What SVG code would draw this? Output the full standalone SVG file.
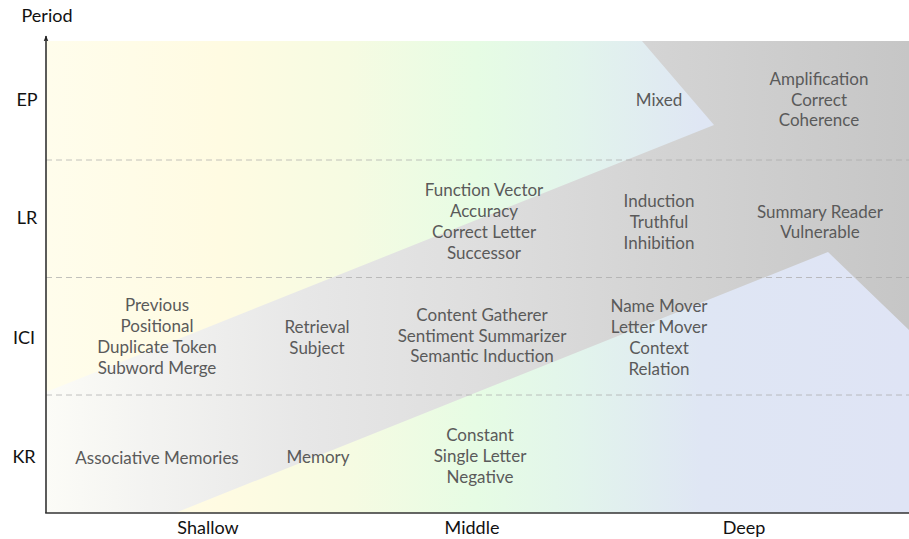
<svg xmlns="http://www.w3.org/2000/svg" width="909" height="539" viewBox="0 0 909 539">
  <defs>
    <linearGradient id="bg" gradientUnits="userSpaceOnUse" x1="46" y1="0" x2="909" y2="0">
      <stop offset="0" stop-color="#fffdec"/>
      <stop offset="0.2" stop-color="#fffbe2"/>
      <stop offset="0.35" stop-color="#f6fbe2"/>
      <stop offset="0.5" stop-color="#e6fce4"/>
      <stop offset="0.62" stop-color="#e2f4ec"/>
      <stop offset="0.76" stop-color="#dfe6f4"/>
      <stop offset="1" stop-color="#dfe4f5"/>
    </linearGradient>
    <linearGradient id="band" gradientUnits="userSpaceOnUse" x1="46" y1="0" x2="909" y2="0">
      <stop offset="0" stop-color="#fcfcf7"/>
      <stop offset="0.12" stop-color="#f3f3f1"/>
      <stop offset="0.3" stop-color="#e7e7e7"/>
      <stop offset="0.5" stop-color="#dedede"/>
      <stop offset="0.72" stop-color="#d3d3d3"/>
      <stop offset="1" stop-color="#c6c6c6"/>
    </linearGradient>
    <marker id="arrow" viewBox="0 0 10 10" refX="9" refY="5" markerWidth="6" markerHeight="6" orient="auto" markerUnits="userSpaceOnUse">
      <path d="M0,1 L10,5 L0,9 L2,5 Z" fill="#222"/>
    </marker>
    <style>
      .lbl { font-family: Lato, "Noto Sans", "DejaVu Sans", sans-serif; font-size: 17px; fill: #5a5a5a; text-anchor: middle; }
      .ax { font-family: Lato, "Noto Sans", "DejaVu Sans", sans-serif; font-size: 18px; fill: #111; text-anchor: middle; }
      .grid { stroke: #a8a8a8; stroke-opacity: 0.7; stroke-width: 1; stroke-dasharray: 6 4; fill: none; }
      .axis { stroke: #333; stroke-width: 1.6; fill: none; }
    </style>
  </defs>

  <rect x="0" y="0" width="909" height="539" fill="#ffffff"/>
  <rect id="background" x="46" y="41" width="863" height="472" fill="url(#bg)"/>
  <path id="band-shape" d="M46,392 L714,125 L642,41 L909,41 L909,330 L828,252 L175,513 L46,513 Z" fill="url(#band)"/>

  <g id="gridlines">
    <line class="grid" x1="46" y1="160" x2="909" y2="160"/>
    <line class="grid" x1="46" y1="277.5" x2="909" y2="277.5"/>
    <line class="grid" x1="46" y1="395" x2="909" y2="395"/>
  </g>

  <g id="connectors">
    <line class="axis" x1="46" y1="513" x2="46" y2="36" marker-end="url(#arrow)"/>
    <line class="axis" x1="45.2" y1="513" x2="909" y2="513"/>
  </g>

  <g id="axis-labels">
    <text class="ax" x="47" y="22">Period</text>
    <text class="ax" x="27" y="106">EP</text>
    <text class="ax" x="27" y="224">LR</text>
    <text class="ax" x="24" y="344">ICI</text>
    <text class="ax" x="24" y="463">KR</text>
    <text class="ax" x="208" y="534">Shallow</text>
    <text class="ax" x="472" y="534">Middle</text>
    <text class="ax" x="744" y="534">Deep</text>
  </g>

  <g id="node-mixed"><text class="lbl" x="659" y="106">Mixed</text></g>
  <g id="node-ep-deep">
    <text class="lbl" x="819" y="85">Amplification</text>
    <text class="lbl" x="819" y="106">Correct</text>
    <text class="lbl" x="819" y="126">Coherence</text>
  </g>
  <g id="node-lr-middle">
    <text class="lbl" x="484" y="196">Function Vector</text>
    <text class="lbl" x="484" y="217">Accuracy</text>
    <text class="lbl" x="484" y="238">Correct Letter</text>
    <text class="lbl" x="484" y="259">Successor</text>
  </g>
  <g id="node-lr-late">
    <text class="lbl" x="659" y="207">Induction</text>
    <text class="lbl" x="659" y="228">Truthful</text>
    <text class="lbl" x="659" y="249">Inhibition</text>
  </g>
  <g id="node-lr-deep">
    <text class="lbl" x="820" y="218">Summary Reader</text>
    <text class="lbl" x="820" y="238">Vulnerable</text>
  </g>
  <g id="node-ici-shallow">
    <text class="lbl" x="157" y="311">Previous</text>
    <text class="lbl" x="157" y="332">Positional</text>
    <text class="lbl" x="157" y="353">Duplicate Token</text>
    <text class="lbl" x="157" y="374">Subword Merge</text>
  </g>
  <g id="node-ici-early">
    <text class="lbl" x="317" y="333">Retrieval</text>
    <text class="lbl" x="317" y="354">Subject</text>
  </g>
  <g id="node-ici-middle">
    <text class="lbl" x="482" y="321">Content Gatherer</text>
    <text class="lbl" x="482" y="342">Sentiment Summarizer</text>
    <text class="lbl" x="482" y="362">Semantic Induction</text>
  </g>
  <g id="node-ici-late">
    <text class="lbl" x="659" y="312">Name Mover</text>
    <text class="lbl" x="659" y="333">Letter Mover</text>
    <text class="lbl" x="659" y="354">Context</text>
    <text class="lbl" x="659" y="375">Relation</text>
  </g>
  <g id="node-kr-shallow"><text class="lbl" x="157" y="464">Associative Memories</text></g>
  <g id="node-kr-early"><text class="lbl" x="318" y="463">Memory</text></g>
  <g id="node-kr-middle">
    <text class="lbl" x="480" y="441">Constant</text>
    <text class="lbl" x="480" y="462">Single Letter</text>
    <text class="lbl" x="480" y="483">Negative</text>
  </g>
</svg>
